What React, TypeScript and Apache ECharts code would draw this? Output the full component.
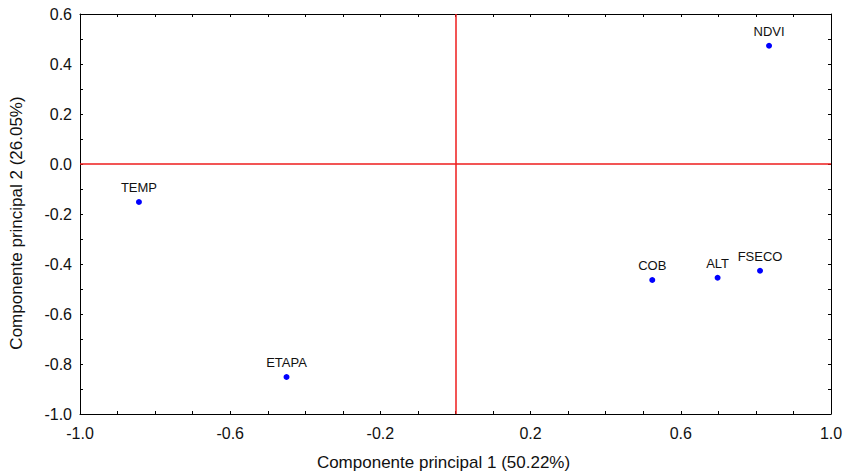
import React, { useEffect, useRef } from "react";
import * as echarts from "echarts";

const labels = ["NDVI", "TEMP", "ETAPA", "COB", "ALT", "FSECO"];
const pc1 = [0.835, -0.843, -0.45, 0.524, 0.698, 0.811];
const pc2 = [0.473, -0.152, -0.852, -0.464, -0.455, -0.427];
const xTitle = "Componente principal 1 (50.22%)";
const yTitle = "Componente principal 2 (26.05%)";

const FONT = "'Liberation Sans', Arial, sans-serif";

function fmt(v: number) {
  if (Math.abs(v) < 1e-9) return "0.0";
  return v.toFixed(1);
}

export default function App() {
  const ref = useRef<HTMLDivElement>(null);
  useEffect(() => {
    if (!ref.current) return;
    const chart = echarts.init(ref.current, null, { renderer: "svg" });
    const axisLine = { show: true, onZero: false, lineStyle: { color: "#000", width: 1 } };
    const tick = { show: true, inside: true, length: 3, lineStyle: { color: "#000", width: 1 } };
    chart.setOption({
      animation: false,
      backgroundColor: "#fff",
      textStyle: { fontFamily: FONT },
      grid: { left: 80, right: 14, top: 14, bottom: 57, containLabel: false, outerBoundsMode: "none" },
      xAxis: [
        {
          type: "value",
          min: -1,
          max: 1,
          interval: 0.1,
          position: "bottom",
          name: xTitle,
          nameLocation: "middle",
          nameGap: 40,
          nameTextStyle: { fontSize: 17, color: "#111", fontFamily: FONT, padding: [0, 24, 0, 0] },
          axisLine,
          axisTick: tick,
          splitLine: { show: false },
          axisLabel: {
            fontSize: 16,
            color: "#111",
            fontFamily: FONT,
            margin: 11,
            showMinLabel: true,
            showMaxLabel: true,
            formatter: (v: number) => {
              const k = Math.round((v + 1) * 10);
              return k % 4 === 0 ? fmt(v) : "";
            },
          },
        },
        {
          type: "value",
          min: -1,
          max: 1,
          interval: 0.1,
          position: "top",
          axisLine,
          axisTick: tick,
          axisLabel: { show: false },
          splitLine: { show: false },
        },
      ],
      yAxis: [
        {
          type: "value",
          min: -1,
          max: 0.6,
          interval: 0.1,
          position: "left",
          name: yTitle,
          nameLocation: "middle",
          nameGap: 55,
          nameTextStyle: { fontSize: 17, color: "#111", fontFamily: FONT, padding: [0, 18, 0, 0] },
          axisLine,
          axisTick: tick,
          splitLine: { show: false },
          axisLabel: {
            fontSize: 16,
            color: "#111",
            fontFamily: FONT,
            margin: 8,
            showMinLabel: true,
            showMaxLabel: true,
            formatter: (v: number) => {
              const k = Math.round((v + 1) * 10);
              return k % 2 === 0 ? fmt(v) : "";
            },
          },
        },
        {
          type: "value",
          min: -1,
          max: 0.6,
          interval: 0.1,
          position: "right",
          axisLine,
          axisTick: tick,
          axisLabel: { show: false },
          splitLine: { show: false },
        },
      ],
      series: [
        {
          type: "scatter",
          xAxisIndex: 0,
          yAxisIndex: 0,
          symbol: "circle",
          symbolSize: 6,
          itemStyle: { color: "#0000ff", opacity: 1 },
          data: labels.map((n, i) => ({ name: n, value: [pc1[i], pc2[i]] })),
          label: {
            show: true,
            position: "top",
            distance: 5,
            formatter: (p: any) => p.name,
            fontSize: 13,
            color: "#111",
            fontFamily: FONT,
          },
          markLine: {
            silent: true,
            symbol: ["none", "none"],
            label: { show: false },
            lineStyle: { color: "#ee1c1c", width: 1.5, type: "solid" },
            data: [{ xAxis: 0 }, { yAxis: 0 }],
          },
          z: 5,
        },
      ],
    });
    return () => chart.dispose();
  }, []);
  return <div ref={ref} style={{ width: 845, height: 471, position: "absolute", left: 0, top: 0 }} />;
}
